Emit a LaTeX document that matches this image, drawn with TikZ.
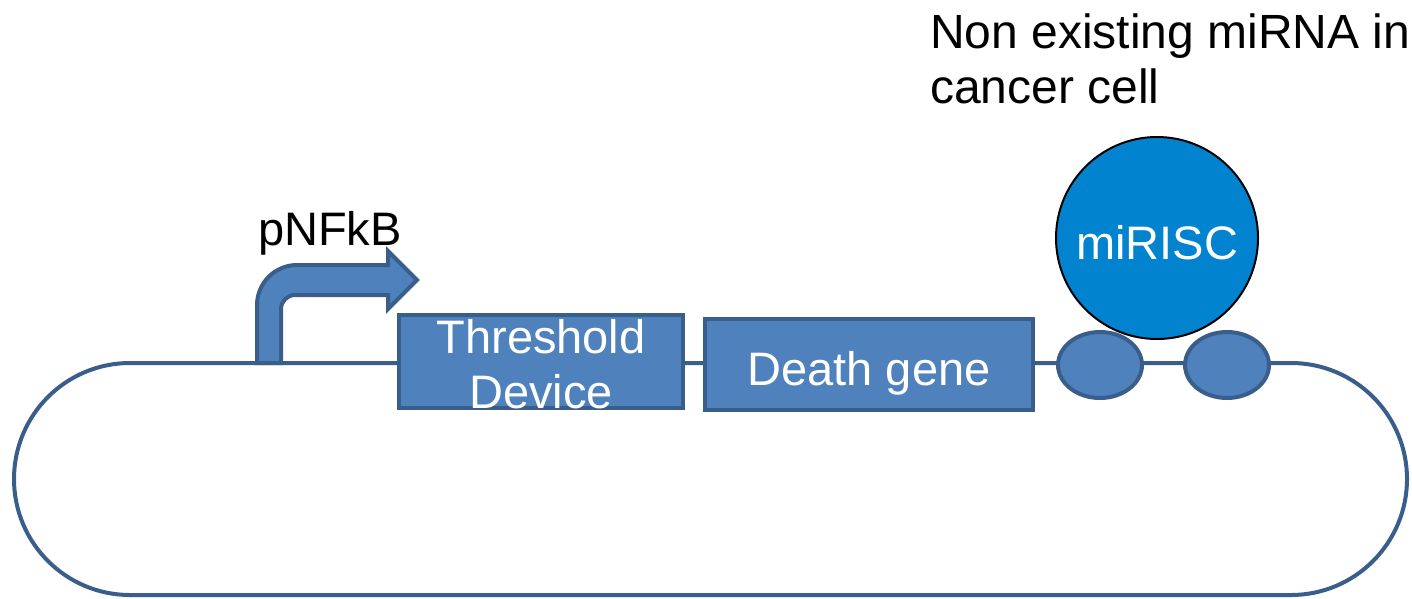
\documentclass[tikz,border=0pt]{standalone}
\usepackage{fontspec}
\setmainfont{Liberation Sans}
\usetikzlibrary{shapes.geometric}
\definecolor{partfill}{HTML}{4F81BD}
\definecolor{partline}{HTML}{3A5E8C}
\definecolor{riscfill}{HTML}{0283D0}
\begin{document}
\begin{tikzpicture}[x=1pt,y=-1pt,
  lbl/.style={font=\fontsize{47}{55}\selectfont, inner sep=0pt, outer sep=0pt},
  wlbl/.style={lbl, text=white},
  partbox/.style={rectangle, draw=partline, line width=4pt, fill=partfill, inner sep=0pt},
  site/.style={ellipse, draw=partline, line width=4pt, fill=partfill,
    minimum width=84pt, minimum height=66pt, inner sep=0pt},
  backbone/.style={draw=partline, line width=4pt},
  link/.style={draw=partline, line width=3.5pt}]
\useasboundingbox (0,0) rectangle (1412,598);

% plasmid backbone
\draw[backbone, rounded corners=116pt] (14,363) rectangle (1407,595);
\coordinate (top) at (700,363);

% promoter arrow
\draw[partline, line width=4pt, fill=partfill, line join=miter]
  (257,363) -- (257,305) .. controls (257,283) and (275,265) .. (297,265)
  -- (388,265) -- (388,251) -- (417,280) -- (388,309) -- (388,295)
  -- (295,295) .. controls (287.3,295) and (281,301.3) .. (281,309)
  -- (281,363) -- cycle;
\node[lbl, anchor=base] (prom) at (330,245) {pNFkB};

% parts on the backbone
\node[partbox, minimum width=284pt, minimum height=93pt] (thr) at (541,361.5) {};
\node[partbox, minimum width=328pt, minimum height=91pt] (death) at (869,364.5) {};
\node[site] (s1) at (1100,365) {};
\node[site] (s2) at (1227,365) {};

\draw[link] (thr.east |- top) -- (death.west |- top);
\draw[link] (death.east |- top) -- (s1.west |- top);
\draw[link] (s1.east |- top) -- (s2.west |- top);

\node[wlbl, anchor=base] (thr1) at (541,353) {Threshold};
\node[wlbl, anchor=base] (thr2) at (541,408) {Device};
\node[wlbl, anchor=base] (deathlbl) at (869,385) {Death gene};

% miRISC complex
\node[circle, draw=black, line width=2pt, fill=riscfill, minimum size=202pt, inner sep=0pt]
  (risc) at (1157,238) {};
\node[wlbl, anchor=base] (risclbl) at (1157,259) {miRISC};

\node[lbl, font=\fontsize{48}{55}\selectfont, anchor=base west] (note1) at (930,48) {Non existing miRNA in};
\node[lbl, font=\fontsize{48}{55}\selectfont, anchor=base west] (note2) at (930,103) {cancer cell};
\end{tikzpicture}
\end{document}
